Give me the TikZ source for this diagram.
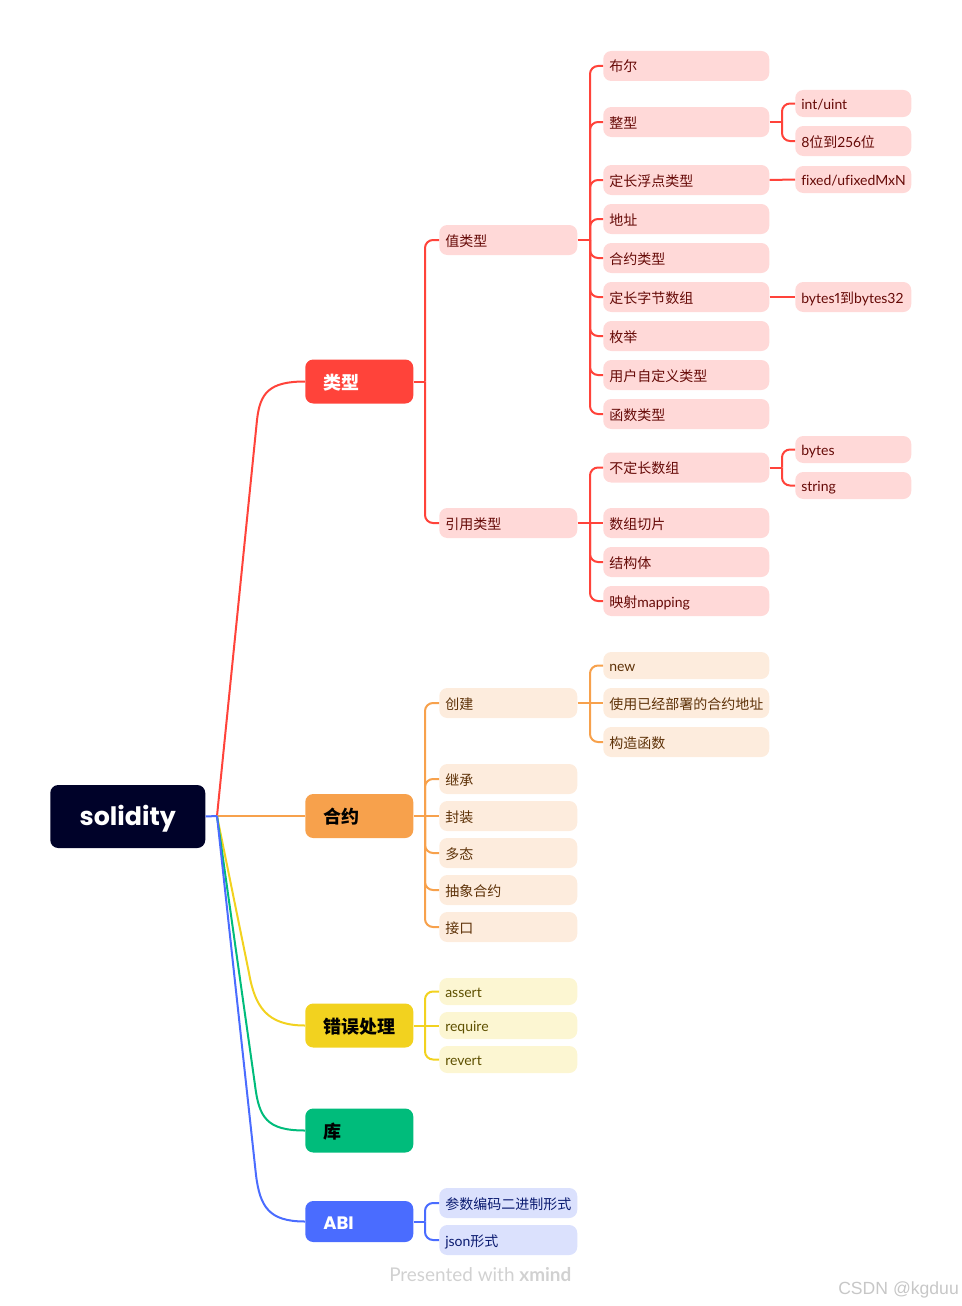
\documentclass[tikz,border=0pt]{standalone}
\usepackage{fontspec}
\setmainfont{Noto Sans CJK SC}
\newfontfamily\latfont[Ligatures=NoCommon,Numbers=Proportional]{Lato}
\newfontfamily\headfont{Poppins}
\newfontfamily\markfont{Liberation Sans}
\newcommand{\lat}[1]{{\latfont #1}}
\newlength{\du}
\setlength{\du}{0.75pt}
\definecolor{redline}{HTML}{FF433A}
\definecolor{redfill}{HTML}{FFD9D8}
\definecolor{redtext}{HTML}{660A07}
\definecolor{orangeline}{HTML}{F7A14C}
\definecolor{orangefill}{HTML}{FDECDD}
\definecolor{orangetext}{HTML}{5E3208}
\definecolor{yellowline}{HTML}{F2D21F}
\definecolor{yellowfill}{HTML}{FCF6D2}
\definecolor{yellowtext}{HTML}{5E5000}
\definecolor{greenline}{HTML}{00BC7B}
\definecolor{blueline}{HTML}{4A6CFF}
\definecolor{bluefill}{HTML}{DBE1FD}
\definecolor{bluetext}{HTML}{0A1A70}
\definecolor{rootfill}{HTML}{000229}
\tikzset{
  leaf/.style={anchor=west,rounded corners=8\du,inner ysep=0pt,inner xsep=6\du,
    text width=#1\du,align=left,minimum height=30\du,text height=12\du,text depth=0pt,
    font=\fontsize{10.5pt}{12pt}\selectfont},
  redleaf/.style={leaf=#1,fill=redfill,text=redtext},
  orangeleaf/.style={leaf=#1,fill=orangefill,text=orangetext},
  yellowleaf/.style={leaf=#1,fill=yellowfill,text=yellowtext},
  blueleaf/.style={leaf=#1,fill=bluefill,text=bluetext},
  topic/.style={anchor=west,rounded corners=8\du,inner ysep=0pt,inner xsep=18\du,
    text width=72\du,align=left,minimum height=44\du,text height=16\du,text depth=1\du,
    font=\fontsize{13.5pt}{16pt}\selectfont\bfseries},
  wire/.style={line width=2\du,draw=#1},
  bracket/.style={line width=2\du,draw=#1,rounded corners=8\du}
}

\begin{document}
\begin{tikzpicture}
\pgftransformyscale{-1}
\useasboundingbox (0\du,0\du) rectangle (962\du,1306\du);
\pgftransformxshift{-1\du}
% root
\node[fill=rootfill,text=white,rounded corners=8\du,anchor=west,minimum width=155\du,minimum height=63\du,inner sep=0pt,text height=20\du,text depth=3\du,font=\fontsize{19pt}{24pt}\selectfont\headfont\bfseries] (solidity) at (51\du,816.5\du){solidity};
\coordinate (hub) at (218\du,816\du);
% main topics
\node[topic,fill=redline,text=white] (leixing) at (306\du,381.5\du){类型};
\node[topic,fill=orangeline,text=black] (heyue) at (306\du,816\du){合约};
\node[topic,fill=yellowline,text=black] (cuowu) at (306\du,1025.5\du){错误处理};
\node[topic,fill=greenline,text=black] (ku) at (306\du,1130.5\du){库};
\node[topic,fill=blueline,text=white,minimum height=41\du] (abi) at (306\du,1221.5\du){{\headfont ABI}};
% value types
\node[redleaf=126] (zhi) at (440\du,240\du){值类型};
\node[redleaf=154] (buer) at (604\du,66\du){布尔};
\node[redleaf=154] (zheng) at (604\du,122\du){整型};
\node[redleaf=154] (fudian) at (604\du,180\du){定长浮点类型};
\node[redleaf=154] (dizhi) at (604\du,219\du){地址};
\node[redleaf=154] (hetype) at (604\du,258\du){合约类型};
\node[redleaf=154] (zijie) at (604\du,297\du){定长字节数组};
\node[redleaf=154] (meiju) at (604\du,336\du){枚举};
\node[redleaf=154] (yonghu) at (604\du,375\du){用户自定义类型};
\node[redleaf=154] (hanshu) at (604\du,414\du){函数类型};
\node[redleaf=104,minimum height=27\du] (intuint) at (796\du,103.5\du){\lat{int/uint}};
\node[redleaf=104] (weishu) at (796\du,141\du){\lat{8}位到\lat{256}位};
\node[redleaf=104,minimum height=27\du] (fixed) at (796\du,179.5\du){\lat{fixed/ufixedMxN}};
\node[redleaf=104] (bytesn) at (796\du,297\du){\lat{bytes1}到\lat{bytes32}};
% reference types
\node[redleaf=126] (yinyong) at (440\du,523\du){引用类型};
\node[redleaf=154] (buding) at (604\du,467.5\du){不定长数组};
\node[redleaf=154] (qiepian) at (604\du,523\du){数组切片};
\node[redleaf=154] (jiegou) at (604\du,562\du){结构体};
\node[redleaf=154] (yingshe) at (604\du,601\du){映射\lat{mapping}};
\node[redleaf=104,minimum height=27\du] (bytes) at (796\du,449.5\du){\lat{bytes}};
\node[redleaf=104,minimum height=27\du] (string) at (796\du,485.5\du){\lat{string}};
% contract
\node[orangeleaf=126] (chuangjian) at (440\du,703\du){创建};
\node[orangeleaf=154,minimum height=27\du] (new) at (604\du,665.5\du){\lat{new}};
\node[orangeleaf=154] (shiyong) at (604\du,703\du){使用已经部署的合约地址};
\node[orangeleaf=154] (gouzao) at (604\du,742\du){构造函数};
\node[orangeleaf=126] (jicheng) at (440\du,779\du){继承};
\node[orangeleaf=126] (fengzhuang) at (440\du,816\du){封装};
\node[orangeleaf=126] (duotai) at (440\du,853\du){多态};
\node[orangeleaf=126] (chouxiang) at (440\du,890\du){抽象合约};
\node[orangeleaf=126] (jiekou) at (440\du,927\du){接口};
% errors
\node[yellowleaf=126,minimum height=27\du] (assert) at (440\du,991.5\du){\lat{assert}};
\node[yellowleaf=126,minimum height=27\du] (require) at (440\du,1025.5\du){\lat{require}};
\node[yellowleaf=126,minimum height=27\du] (revert) at (440\du,1059.5\du){\lat{revert}};
% abi
\node[blueleaf=126] (bianma) at (440\du,1203\du){参数编码二进制形式};
\node[blueleaf=126] (json) at (440\du,1240\du){\lat{json}形式};
% spines
\coordinate (leixingspine) at (426\du,381.5\du);
\coordinate (zhispine) at (591\du,240\du);
\coordinate (yinyongspine) at (591\du,523\du);
\coordinate (zhengspine) at (783\du,122\du);
\coordinate (budingspine) at (783\du,467.5\du);
\coordinate (heyuespine) at (426\du,816\du);
\coordinate (chuangjianspine) at (591\du,703\du);
\coordinate (cuowuspine) at (426\du,1025.5\du);
\coordinate (abispine) at (426\du,1221.5\du);
% from the root
\draw[wire=redline] (hub)--(258\du,420\du) .. controls (261\du,393\du) and (270\du,381.5\du) .. (leixing.west);
\draw[wire=orangeline] (hub)--(heyue.west);
\draw[wire=yellowline] (hub)--(250\du,973\du) .. controls (256\du,1007\du) and (268\du,1025.5\du) .. (cuowu.west);
\draw[wire=greenline] (hub)--(256\du,1085\du) .. controls (260\du,1118\du) and (268\du,1130.5\du) .. (ku.west);
\draw[wire=blueline] (hub)--(257\du,1175\du) .. controls (261\du,1207\du) and (270\du,1221.5\du) .. (abi.west);
\draw[wire=blueline] (solidity.east)--(hub);
% red brackets
\draw[wire=redline] (leixing.east)--(leixingspine);
\draw[bracket=redline] (leixingspine)|-(zhi.west);
\draw[bracket=redline] (leixingspine)|-(yinyong.west);
\draw[wire=redline] (zhi.east)--(zhispine);
\draw[bracket=redline] (zhispine)|-(buer.west);
\draw[bracket=redline] (zhispine)|-(zheng.west);
\draw[bracket=redline] (zhispine)|-(fudian.west);
\draw[bracket=redline] (zhispine)|-(dizhi.west);
\draw[bracket=redline] (zhispine)|-(hetype.west);
\draw[bracket=redline] (zhispine)|-(zijie.west);
\draw[bracket=redline] (zhispine)|-(meiju.west);
\draw[bracket=redline] (zhispine)|-(yonghu.west);
\draw[bracket=redline] (zhispine)|-(hanshu.west);
\draw[wire=redline] (zheng.east)--(zhengspine);
\draw[bracket=redline] (zhengspine)|-(intuint.west);
\draw[bracket=redline] (zhengspine)|-(weishu.west);
\draw[wire=redline] (fudian.east)--(fixed.west);
\draw[wire=redline] (zijie.east)--(bytesn.west);
\draw[wire=redline] (yinyong.east)--(qiepian.west);
\draw[bracket=redline] (yinyongspine)|-(buding.west);
\draw[bracket=redline] (yinyongspine)|-(jiegou.west);
\draw[bracket=redline] (yinyongspine)|-(yingshe.west);
\draw[wire=redline] (buding.east)--(budingspine);
\draw[bracket=redline] (budingspine)|-(bytes.west);
\draw[bracket=redline] (budingspine)|-(string.west);
% orange brackets
\draw[wire=orangeline] (heyue.east)--(fengzhuang.west);
\draw[bracket=orangeline] (heyuespine)|-(chuangjian.west);
\draw[bracket=orangeline] (heyuespine)|-(jicheng.west);
\draw[bracket=orangeline] (heyuespine)|-(duotai.west);
\draw[bracket=orangeline] (heyuespine)|-(chouxiang.west);
\draw[bracket=orangeline] (heyuespine)|-(jiekou.west);
\draw[wire=orangeline] (chuangjian.east)--(shiyong.west);
\draw[bracket=orangeline] (chuangjianspine)|-(new.west);
\draw[bracket=orangeline] (chuangjianspine)|-(gouzao.west);
% yellow brackets
\draw[wire=yellowline] (cuowu.east)--(require.west);
\draw[bracket=yellowline] (cuowuspine)|-(assert.west);
\draw[bracket=yellowline] (cuowuspine)|-(revert.west);
% blue brackets
\draw[wire=blueline] (abi.east)--(abispine);
\draw[bracket=blueline] (abispine)|-(bianma.west);
\draw[bracket=blueline] (abispine)|-(json.west);
% marks
\node[anchor=west,inner sep=0pt,text=black!18,font=\fontsize{14.2pt}{16pt}\selectfont\latfont] (presented) at (390\du,1275\du){Presented with \textbf{xmind}};
\node[anchor=west,inner sep=0pt,text=black!22,font=\fontsize{13.2pt}{16pt}\selectfont\markfont] (csdn) at (839\du,1290\du){CSDN @kgduu};
\end{tikzpicture}
\end{document}
